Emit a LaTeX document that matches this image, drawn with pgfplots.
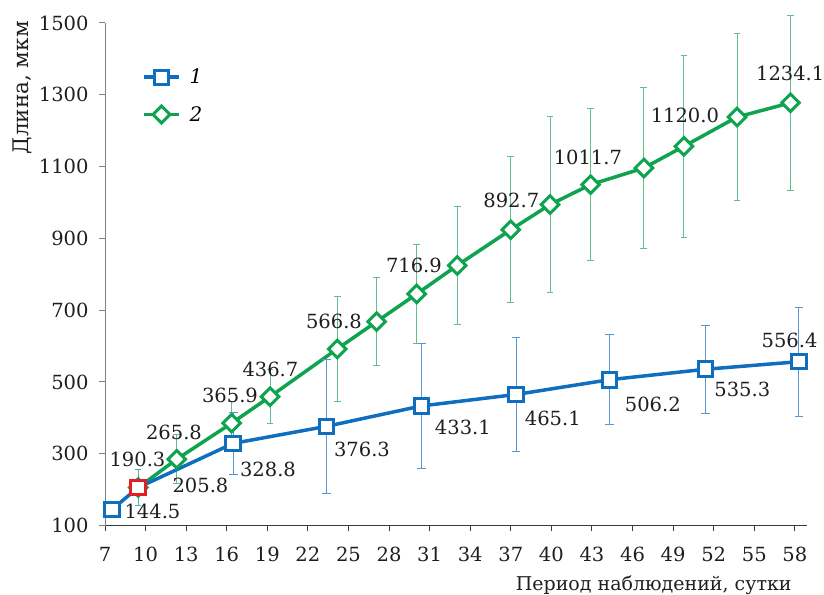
\documentclass[border=0pt]{standalone}
\usepackage{fontspec}
\setmainfont{DejaVu Serif}
\usepackage{pgfplots}
\pgfplotsset{compat=1.18}
\definecolor{blueC}{RGB}{16,110,190}
\definecolor{greenC}{RGB}{14,163,78}
\definecolor{greenE}{RGB}{100,190,140}
\definecolor{blueE}{RGB}{90,150,210}
\definecolor{redC}{RGB}{230,30,35}
\definecolor{tealE}{RGB}{80,180,170}
\definecolor{xax}{RGB}{60,60,60}
\definecolor{yax}{RGB}{128,128,128}
\definecolor{txt}{RGB}{30,30,30}
\begin{document}
\begin{tikzpicture}[font=\fontsize{19bp}{23bp}\selectfont]
\begin{axis}[
  at={(105bp,69.5bp)}, anchor=south west,
  scale only axis, width=702bp, height=502.5bp,
  xmin=7, xmax=58.9, ymin=100, ymax=1500,
  axis x line*=bottom, axis y line*=left,
  x axis line style={draw=xax, line width=1.2bp, -},
  y axis line style={draw=yax, line width=1bp, -},
  xtick={7,10,...,58}, ytick={100,300,...,1500},
  tick align=outside, major tick length=6bp,
  xtick style={draw=xax, line width=1bp},
  ytick style={draw=yax, line width=1bp},
  tick label style={font=\fontsize{19.5bp}{23bp}\selectfont, text=txt},
  xticklabel style={yshift=-12bp},
  yticklabel style={xshift=-7bp},
  /pgf/number format/assume math mode=true,
  /pgf/number format/1000 sep={},
  clip=false,
  xlabel={Период наблюдений, сутки},
  xlabel style={at={(rel axis cs:0.983,-0.118)}, anchor=east, text=txt},
  ylabel={Длина, мкм},
  ylabel style={at={(rel axis cs:-0.118,0.871)}, anchor=center, text=txt, font=\fontsize{21.5bp}{24bp}\selectfont},
  legend style={draw=none, fill=none, at={(0.0527,0.855)}, anchor=west,
    font=\itshape\fontsize{20bp}{23bp}\selectfont, row sep=17bp, inner xsep=0pt,
    nodes={inner xsep=9bp}},
  legend cell align=left,
  legend image code/.code={\draw[mark repeat=2, mark phase=2] plot coordinates {(0bp,0bp) (17.5bp,0bp) (35bp,0bp)};},
]
\addlegendimage{blueC, line width=3.5bp, mark=square*, mark size=7bp, mark options={fill=white, draw=blueC, line width=3bp}}
\addlegendentry{1}
\addlegendimage{greenC, line width=3.5bp, mark=square*, mark size=6bp, mark options={rotate=45, fill=white, draw=greenC, line width=3bp}}
\addlegendentry{2}

% series 2 (green)
\addplot[forget plot, greenC, line width=3.5bp, mark=square*, mark size=6.2bp,
  mark options={rotate=45, fill=white, draw=greenC, line width=3bp},
  error bars/.cd, y dir=both, y explicit,
  error bar style={line width=1bp, draw=greenE},
  error mark options={rotate=90, mark size=3.4bp, line width=1bp, draw=greenE}]
table[x=x, y=y, y error=e] {
x y e
9.46 205.8 0
12.3 284.6 68
16.36 385 60
19.2 459 76
24.17 592 147
27.08 668 122
30.04 745 137
33.04 824.6 165
37.0 924 203
39.9 994 245
42.9 1049.7 212
46.84 1096 225
49.8 1156.5 254
53.73 1238 233
57.68 1277.6 243
};

% series 1 (blue)
\addplot[forget plot, blueC, line width=3.5bp, mark=square*, mark size=7.3bp,
  mark options={fill=white, draw=blueC, line width=3bp},
  error bars/.cd, y dir=both, y explicit,
  error bar style={line width=1bp, draw=blueE},
  error mark options={rotate=90, mark size=4.3bp, line width=1bp, draw=blueE}]
table[x=x, y=y, y error=e] {
x y e
7.5 144.5 0
9.46 205.8 0
16.48 328.8 86
23.38 376.3 187
30.4 433.1 173
37.4 465.1 158
44.3 506.2 126
51.4 535.3 122
58.3 556.4 152
};

% shared point (red)
\addplot[forget plot, only marks, mark=square*, mark size=7.3bp,
  mark options={fill=white, draw=redC, line width=3bp},
  error bars/.cd, y dir=both, y explicit,
  error bar style={line width=1bp, draw=tealE},
  error mark options={rotate=90, mark size=3bp, line width=1bp, draw=tealE}]
table[x=x, y=y, y error=e] {
x y e
9.46 205.8 50
};

% data labels
\begin{scope}[every node/.style={text=txt, inner sep=0pt, anchor=center, font=\fontsize{19.5bp}{23bp}\selectfont}]
\node at (axis cs:10.51,140.4) {144.5};
\node at (axis cs:9.40,285.5) {190.3};
\node at (axis cs:14.06,213) {205.8};
\node at (axis cs:12.10,359.4) {265.8};
\node at (axis cs:19.05,256.2) {328.8};
\node at (axis cs:16.24,462.6) {365.9};
\node at (axis cs:26.0,313.4) {376.3};
\node at (axis cs:19.23,535) {436.7};
\node at (axis cs:33.46,373.3) {433.1};
\node at (axis cs:40.11,398.4) {465.1};
\node at (axis cs:47.50,437.5) {506.2};
\node at (axis cs:54.12,479.3) {535.3};
\node at (axis cs:57.61,616) {556.4};
\node at (axis cs:23.93,669) {566.8};
\node at (axis cs:29.84,825) {716.9};
\node at (axis cs:37.04,1006.4) {892.7};
\node at (axis cs:42.70,1126.4) {1011.7};
\node at (axis cs:49.87,1243.5) {1120.0};
\node at (axis cs:57.66,1359.2) {1234.1};
\end{scope}
\end{axis}
\pgfresetboundingbox
\useasboundingbox (0,0) rectangle (824bp,595bp);
\end{tikzpicture}
\end{document}
